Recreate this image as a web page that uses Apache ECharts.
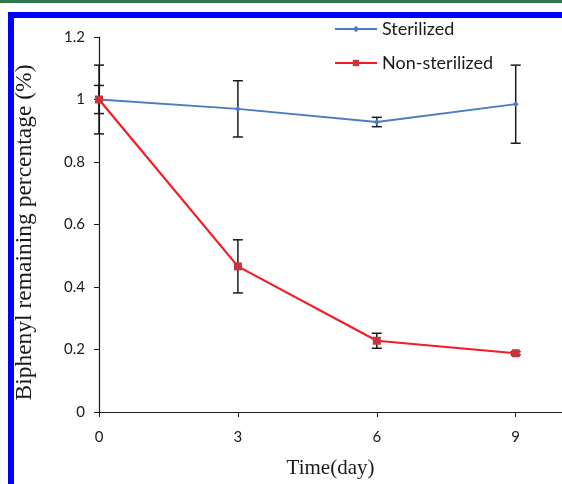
<!DOCTYPE html>
<html>
<head>
<meta charset="utf-8">
<script src="https://cdn.jsdelivr.net/npm/echarts@6/dist/echarts.min.js"></script>
<style>html,body{margin:0;padding:0;background:#fff}#c{width:562px;height:484px}</style>
</head>
<body>
<div id="c"></div>
<script>
const days = [0, 3, 6, 9];
const sterilized = [1.0, 0.97, 0.928, 0.985];
const sterilizedErr = [0.045, 0.09, 0.015, 0.125];
const nonSterilized = [1.0, 0.466, 0.228, 0.188];
const nonSterilizedErr = [0.11, 0.085, 0.024, 0.005];
const xTicks = [0, 3, 6, 9];
const yTicks = [0, 0.2, 0.4, 0.6, 0.8, 1, 1.2];

const chart = echarts.init(document.getElementById('c'));
const pts = (ys) => days.map((d, i) => [d, ys[i]]);
const errData = (ys, es) => days.map((d, i) => [d, ys[i] - es[i], ys[i] + es[i]]);

function errRender(params, api) {
  const x = api.value(0);
  const lo = api.coord([x, api.value(1)]);
  const hi = api.coord([x, api.value(2)]);
  const w = 5;
  const st = { stroke: '#1a1a1a', lineWidth: 1.5 };
  return {
    type: 'group',
    children: [
      { type: 'line', shape: { x1: lo[0], y1: lo[1], x2: hi[0], y2: hi[1] }, style: st },
      { type: 'line', shape: { x1: lo[0] - w, y1: lo[1], x2: lo[0] + w, y2: lo[1] }, style: st },
      { type: 'line', shape: { x1: hi[0] - w, y1: hi[1], x2: hi[0] + w, y2: hi[1] }, style: st }
    ]
  };
}

chart.setOption({
  animation: false,
  backgroundColor: '#fff',
  graphic: [
    { type: 'rect', shape: { x: 0, y: 0, width: 562, height: 3 }, style: { fill: '#2e7a4c' }, z: 100 },
    { type: 'rect', shape: { x: 11, y: 15, width: 620, height: 520 }, style: { fill: 'none', stroke: '#0000ff', lineWidth: 6 }, z: 100 }
  ],
  legend: {
    orient: 'vertical',
    left: 329,
    top: 15,
    itemWidth: 42,
    itemHeight: 8,
    itemGap: 16,
    textStyle: { fontFamily: 'Lato', fontSize: 18, color: '#1a1a1a' },
    data: ['Sterilized', 'Non-sterilized']
  },
  grid: { left: 99, top: 37, right: 0, bottom: 71, containLabel: false },
  xAxis: {
    type: 'value', min: 0, max: 10, interval: 3,
    name: 'Time(day)', nameLocation: 'middle', nameGap: 46,
    nameTextStyle: { fontFamily: 'Liberation Serif', fontSize: 21, color: '#1a1a1a' },
    axisLine: { lineStyle: { color: '#1a1a1a', width: 1.2 } },
    axisTick: { length: 5, lineStyle: { color: '#1a1a1a' } },
    axisLabel: { fontFamily: 'Lato', fontSize: 15, color: '#1a1a1a', margin: 18, showMaxLabel: false,
      formatter: v => xTicks.includes(v) ? String(v) : '' },
    splitLine: { show: false }
  },
  yAxis: {
    type: 'value', min: 0, max: 1.2, interval: 0.2,
    name: 'Biphenyl remaining percentage (%)', nameLocation: 'middle', nameGap: 62, nameRotate: 90,
    nameTextStyle: { fontFamily: 'Liberation Serif', fontSize: 23.5, color: '#1a1a1a', padding: [0, 16, 0, 0] },
    axisLine: { show: true, lineStyle: { color: '#1a1a1a', width: 1.2 } },
    axisTick: { show: true, length: 5, lineStyle: { color: '#1a1a1a' } },
    axisLabel: { fontFamily: 'Lato', fontSize: 15, color: '#1a1a1a', margin: 14,
      formatter: v => { const t = yTicks.find(y => Math.abs(y - v) < 1e-6); return t === undefined ? '' : String(t); } },
    splitLine: { show: false }
  },
  series: [
    { type: 'custom', name: 'errS', renderItem: errRender, data: errData(sterilized, sterilizedErr), z: 1, silent: true },
    { type: 'custom', name: 'errN', renderItem: errRender, data: errData(nonSterilized, nonSterilizedErr), z: 1, silent: true },
    {
      type: 'line', name: 'Sterilized', data: pts(sterilized), z: 3,
      symbol: 'diamond', symbolSize: 6,
      lineStyle: { color: '#4a7dbf', width: 1.8 },
      itemStyle: { color: '#4a7dbf' }
    },
    {
      type: 'line', name: 'Non-sterilized', data: pts(nonSterilized), z: 4,
      symbol: 'rect', symbolSize: 8,
      lineStyle: { color: '#f41c24', width: 2.2 },
      itemStyle: { color: '#c8343c' }
    }
  ]
});
</script>
</body>
</html>
